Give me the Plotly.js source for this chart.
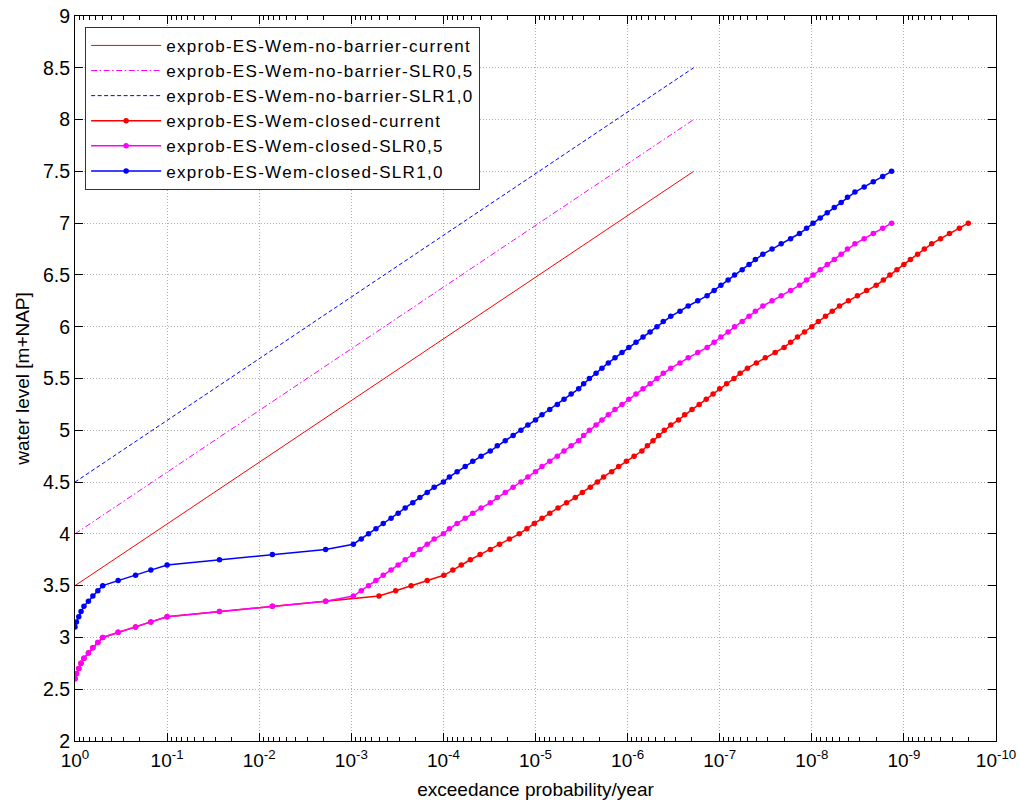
<!DOCTYPE html>
<html>
<head>
<meta charset="utf-8">
<script src="https://cdn.plot.ly/plotly-3.0.1.min.js"></script>
<style>
html,body{margin:0;padding:0;background:#fff;}
#chart{width:1019px;height:805px;}
.legendtext{letter-spacing:1.3px;}
</style>
</head>
<body>
<div id="chart"></div>
<script>
// ---- data ----
const seriesNames = [
  'exprob-ES-Wem-no-barrier-current',
  'exprob-ES-Wem-no-barrier-SLR0,5',
  'exprob-ES-Wem-no-barrier-SLR1,0',
  'exprob-ES-Wem-closed-current',
  'exprob-ES-Wem-closed-SLR0,5',
  'exprob-ES-Wem-closed-SLR1,0'
];

const noBarrierProb = [1, 1.92e-7];
const noBarrierCurrent = [3.5, 7.5];
const noBarrierSlr05 = [4.0, 8.0];
const noBarrierSlr10 = [4.5, 8.5];

const closedCurrentProb = [
  1, 0.965, 0.91, 0.86, 0.80, 0.715, 0.64, 0.565, 0.50, 0.34, 0.22, 0.15, 0.10, 0.027, 0.0072, 0.0019,
  5.0e-4, 3.3e-4, 2.24e-4, 1.5e-4, 9.9e-5, 7.9e-5, 6.4e-5, 5.1e-5, 4.0e-5, 3.1e-5, 2.46e-5, 1.92e-5, 1.5e-5, 1.24e-5, 1.03e-5, 8.5e-6, 7.0e-6, 5.7e-6, 4.6e-6,
  3.7e-6, 3.1e-6, 2.54e-6, 2.13e-6,
  1.82e-6, 1.49e-6, 1.25e-6, 1.03e-6, 8.5e-7, 7.0e-7, 6.1e-7, 5.3e-7, 4.6e-7, 4.0e-7, 3.4e-7, 2.8e-7, 2.4e-7, 2.0e-7, 1.67e-7, 1.4e-7, 1.18e-7, 1.0e-7, 8.4e-8, 7.0e-8, 6.0e-8, 5.0e-8,
  4.0e-8, 3.2e-8, 2.5e-8, 2.0e-8, 1.7e-8, 1.43e-8, 1.2e-8, 1.0e-8, 8.5e-9, 7.1e-9, 6.0e-9, 5.0e-9, 4.0e-9, 3.2e-9, 2.54e-9, 2.0e-9, 1.67e-9, 1.42e-9, 1.19e-9, 1.0e-9, 8.5e-10, 7.1e-10, 6.0e-10, 5.0e-10, 4.0e-10, 3.2e-10, 2.5e-10, 2.0e-10
];
const closedCurrentLevel = [
  2.6,2.65,2.7,2.75,2.8,2.85,2.9,2.95,3,3.05,3.1,3.15,3.2,3.25,3.3,3.35,3.4,3.45,3.5,3.55,3.6,3.65,3.7,3.75,3.8,3.85,3.9,3.95,
  4,4.05,4.1,4.15,4.2,4.25,4.3,4.35,4.4,4.45,4.5,4.55,4.6,4.65,4.7,4.75,4.8,4.85,4.9,4.95,
  5,5.05,5.1,5.15,5.2,5.25,5.3,5.35,5.4,5.45,5.5,5.55,5.6,5.65,5.7,5.75,5.8,5.85,5.9,5.95,
  6,6.05,6.1,6.15,6.2,6.25,6.3,6.35,6.4,6.45,6.5,6.55,6.6,6.65,6.7,6.75,6.8,6.85,6.9,6.95,7
];

const closedSlr05Prob = [
  1, 0.965, 0.91, 0.86, 0.80, 0.715, 0.64, 0.565, 0.50, 0.34, 0.22, 0.15, 0.10, 0.027, 0.0072, 0.0019, 0.00095,
  7.8e-4, 6.5e-4, 5.4e-4, 4.5e-4, 3.7e-4, 3.1e-4, 2.6e-4, 2.15e-4, 1.8e-4, 1.5e-4, 1.26e-4, 1.0e-4, 8.6e-5, 7.1e-5, 5.8e-5, 4.8e-5, 3.9e-5, 3.1e-5,
  2.6e-5, 2.13e-5, 1.75e-5, 1.44e-5, 1.21e-5, 1.0e-5, 8.5e-6, 7.0e-6, 5.8e-6, 4.9e-6, 4.1e-6, 3.4e-6, 3.0e-6, 2.6e-6, 2.2e-6, 1.9e-6,
  1.62e-6, 1.37e-6, 1.15e-6, 9.7e-7, 8.1e-7, 6.8e-7, 5.7e-7, 4.8e-7, 4.1e-7, 3.4e-7, 2.7e-7, 2.2e-7, 1.73e-7, 1.37e-7, 1.15e-7, 9.7e-8, 8.1e-8, 6.9e-8, 5.7e-8, 4.8e-8,
  4.1e-8, 3.4e-8, 2.7e-8, 2.15e-8, 1.7e-8, 1.36e-8, 1.14e-8, 9.7e-9, 8.1e-9, 6.8e-9, 5.7e-9, 4.8e-9, 4.1e-9, 3.4e-9, 2.7e-9, 2.15e-9, 1.7e-9, 1.36e-9
];
const closedSlr05Level = [
  2.6,2.65,2.7,2.75,2.8,2.85,2.9,2.95,3,3.05,3.1,3.15,3.2,3.25,3.3,3.35,3.4,3.45,3.5,3.55,3.6,3.65,3.7,3.75,3.8,3.85,3.9,3.95,
  4,4.05,4.1,4.15,4.2,4.25,4.3,4.35,4.4,4.45,4.5,4.55,4.6,4.65,4.7,4.75,4.8,4.85,4.9,4.95,
  5,5.05,5.1,5.15,5.2,5.25,5.3,5.35,5.4,5.45,5.5,5.55,5.6,5.65,5.7,5.75,5.8,5.85,5.9,5.95,
  6,6.05,6.1,6.15,6.2,6.25,6.3,6.35,6.4,6.45,6.5,6.55,6.6,6.65,6.7,6.75,6.8,6.85,6.9,6.95,7
];

const closedSlr10Prob = [
  1, 0.965, 0.91, 0.86, 0.80, 0.715, 0.64, 0.565, 0.50, 0.34, 0.22, 0.15, 0.10, 0.027, 0.0072, 0.0019, 0.00095,
  7.8e-4, 6.5e-4, 5.4e-4, 4.5e-4, 3.7e-4, 3.1e-4, 2.6e-4, 2.15e-4, 1.8e-4, 1.5e-4, 1.26e-4, 1.0e-4, 8.6e-5, 7.1e-5, 5.8e-5, 4.8e-5, 3.9e-5, 3.1e-5,
  2.6e-5, 2.13e-5, 1.75e-5, 1.44e-5, 1.21e-5, 1.0e-5, 8.5e-6, 7.0e-6, 5.8e-6, 4.9e-6, 4.1e-6, 3.4e-6, 3.0e-6, 2.6e-6, 2.2e-6, 1.9e-6,
  1.62e-6, 1.37e-6, 1.15e-6, 9.7e-7, 8.1e-7, 6.8e-7, 5.7e-7, 4.8e-7, 4.1e-7, 3.4e-7, 2.7e-7, 2.2e-7, 1.73e-7, 1.37e-7, 1.15e-7, 9.7e-8, 8.1e-8, 6.9e-8, 5.7e-8, 4.8e-8,
  4.1e-8, 3.4e-8, 2.7e-8, 2.15e-8, 1.7e-8, 1.36e-8, 1.14e-8, 9.7e-9, 8.1e-9, 6.8e-9, 5.7e-9, 4.8e-9, 4.1e-9, 3.4e-9, 2.7e-9, 2.15e-9, 1.7e-9, 1.36e-9
];
const closedSlr10Level = [
  3.1,3.15,3.2,3.25,3.3,3.35,3.4,3.45,3.5,3.55,3.6,3.65,3.7,3.75,3.8,3.85,3.9,3.95,
  4,4.05,4.1,4.15,4.2,4.25,4.3,4.35,4.4,4.45,4.5,4.55,4.6,4.65,4.7,4.75,4.8,4.85,4.9,4.95,
  5,5.05,5.1,5.15,5.2,5.25,5.3,5.35,5.4,5.45,5.5,5.55,5.6,5.65,5.7,5.75,5.8,5.85,5.9,5.95,
  6,6.05,6.1,6.15,6.2,6.25,6.3,6.35,6.4,6.45,6.5,6.55,6.6,6.65,6.7,6.75,6.8,6.85,6.9,6.95,
  7,7.05,7.1,7.15,7.2,7.25,7.3,7.35,7.4,7.45,7.5
];

const xTickVals = [1, 1e-1, 1e-2, 1e-3, 1e-4, 1e-5, 1e-6, 1e-7, 1e-8, 1e-9, 1e-10];
const xTickText = ['10<sup>0</sup>','10<sup>-1</sup>','10<sup>-2</sup>','10<sup>-3</sup>','10<sup>-4</sup>','10<sup>-5</sup>','10<sup>-6</sup>','10<sup>-7</sup>','10<sup>-8</sup>','10<sup>-9</sup>','10<sup>-10</sup>'];
const yTickVals = [2, 2.5, 3, 3.5, 4, 4.5, 5, 5.5, 6, 6.5, 7, 7.5, 8, 8.5, 9];
const yTickText = ['2','2.5','3','3.5','4','4.5','5','5.5','6','6.5','7','7.5','8','8.5','9'];

// ---- styling ----
const RED = '#ff0000', MAG = '#ff00ff', BLUE = '#0000ff';
const FONT = 'Liberation Sans, Arial, Helvetica, sans-serif';
const GRID = {showgrid: true, gridcolor: '#b0b0b0', griddash: '1px,2px', gridwidth: 1};

const minorVals = [];
for (let k = 0; k < 10; k++) {
  for (let m = 2; m <= 9; m++) minorVals.push(m * Math.pow(10, -(k + 1)));
}

const traces = [
  {x: noBarrierProb, y: noBarrierCurrent, name: seriesNames[0], mode: 'lines',
   line: {color: RED, width: 1}},
  {x: noBarrierProb, y: noBarrierSlr05, name: seriesNames[1], mode: 'lines',
   line: {color: MAG, width: 1, dash: '6px,2.5px,1.5px,2.5px'}},
  {x: noBarrierProb, y: noBarrierSlr10, name: seriesNames[2], mode: 'lines',
   line: {color: BLUE, width: 1, dash: '4px,2.5px'}},
  {x: closedCurrentProb, y: closedCurrentLevel, name: seriesNames[3], mode: 'lines+markers',
   line: {color: RED, width: 1.5}, marker: {color: RED, size: 5.5}},
  {x: closedSlr05Prob, y: closedSlr05Level, name: seriesNames[4], mode: 'lines+markers',
   line: {color: MAG, width: 1.5}, marker: {color: MAG, size: 5.5}},
  {x: closedSlr10Prob, y: closedSlr10Level, name: seriesNames[5], mode: 'lines+markers',
   line: {color: BLUE, width: 1.5}, marker: {color: BLUE, size: 5.5}}
];

const layout = {
  width: 1019, height: 805,
  paper_bgcolor: '#ffffff', plot_bgcolor: '#ffffff',
  margin: {l: 75, r: 23, t: 16, b: 64},
  font: {family: FONT, size: 19, color: '#000'},
  showlegend: true,
  legend: {
    x: 0.011, y: 0.985, xanchor: 'left', yanchor: 'top',
    bgcolor: '#ffffff', bordercolor: '#333333', borderwidth: 1,
    font: {family: FONT, size: 17, color: '#000'},
    itemwidth: 70, tracegroupgap: 0
  },
  xaxis: Object.assign({
    type: 'log', range: [0, -10], autorange: false,
    tickmode: 'array', tickvals: xTickVals, ticktext: xTickText,
    ticks: 'inside', ticklen: 8, tickcolor: '#000', tickwidth: 1,
    showline: true, linecolor: '#000', linewidth: 1, mirror: 'allticks',
    minor: {tickmode: 'array', tickvals: minorVals, ticks: 'inside', ticklen: 4, tickcolor: '#000', showgrid: false},
    tickfont: {family: FONT, size: 19, color: '#000'},
    ticklabelstandoff: 2,
    title: {text: 'exceedance probability/year', font: {family: FONT, size: 19, color: '#000'}, standoff: 12},
    zeroline: false
  }, GRID),
  yaxis: Object.assign({
    range: [2, 9], autorange: false,
    tickmode: 'array', tickvals: yTickVals, ticktext: yTickText,
    ticks: 'inside', ticklen: 8, tickcolor: '#000', tickwidth: 1,
    showline: true, linecolor: '#000', linewidth: 1, mirror: 'allticks',
    tickfont: {family: FONT, size: 19.5, color: '#000'},
    title: {text: 'water level [m+NAP]', font: {family: FONT, size: 19, color: '#000'}, standoff: 8},
    zeroline: false
  }, GRID)
};

Plotly.newPlot('chart', traces, layout, {displayModeBar: false, staticPlot: true});
</script>
</body>
</html>
